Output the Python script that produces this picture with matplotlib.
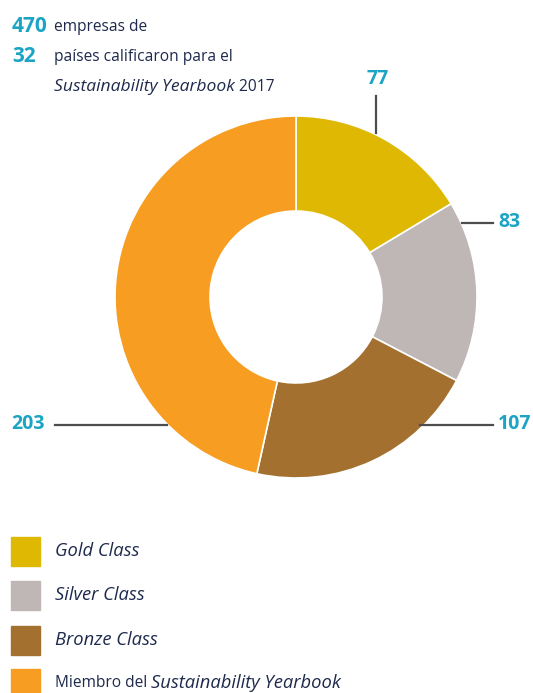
import matplotlib.pyplot as plt

# Data
labels = ['Gold Class', 'Silver Class', 'Bronze Class', 'Miembro del Sustainability Yearbook']
values = [77, 83, 107, 203]
# the original drawing is not exactly proportional; slice angles as drawn (degrees)
drawn_deg = [59, 58.5, 75, 167.5]
colors = ['#dfb804', '#beb7b5', '#a37030', '#f79d21']
total_companies = 470
countries = 32

teal = '#1ba4c4'
navy = '#1e2a4c'
line_c = '#4d4d4d'

plt.rcParams['font.family'] = ['Open Sans', 'DejaVu Sans']

W, H = 533, 693
fig = plt.figure(figsize=(W / 100, H / 100), dpi=100)
ax = fig.add_axes([0, 0, 1, 1])


def Y(py):
    # pixel row (from top) -> data y
    return H - py


cx, cy, r = 296, Y(297), 181
ax.pie(drawn_deg, colors=colors, startangle=90, counterclock=False,
       center=(cx, cy), radius=r,
       wedgeprops=dict(width=r * 0.525, edgecolor='white', linewidth=1.2))
ax.set_xlim(0, W)
ax.set_ylim(0, H)
ax.set_aspect('equal')
ax.axis('off')

fs = 11.2     # regular text
fsi = 12.6    # italic text
fsn = 15      # numbers

# header text
ax.text(12, Y(26), str(total_companies), color=teal, fontsize=fsn,
        fontweight='bold', va='center')
ax.text(54, Y(27), 'empresas de', color=navy, fontsize=fs, va='center')
ax.text(12, Y(56), str(countries), color=teal, fontsize=fsn,
        fontweight='bold', va='center')
ax.text(54, Y(57), 'países calificaron para el', color=navy, fontsize=fs, va='center')
t = ax.text(54, Y(87), 'Sustainability Yearbook', color=navy, fontsize=fsi,
            style='italic', va='center')
ax.annotate(' 2017', xy=(1, 0.5), xycoords=t, color=navy, fontsize=fs, va='center')

# leader lines and value labels
lw = 1.6
ax.plot([376, 376], [Y(96), Y(133)], color=line_c, lw=lw)
ax.text(378, Y(79), str(values[0]), color=teal, fontsize=fsn - 1, fontweight='bold',
        ha='center', va='center')
ax.plot([462, 493], [Y(223), Y(223)], color=line_c, lw=lw)
ax.text(498, Y(222), str(values[1]), color=teal, fontsize=fsn - 1, fontweight='bold',
        va='center')
ax.plot([420, 493], [Y(425), Y(425)], color=line_c, lw=lw)
ax.text(498, Y(424), str(values[2]), color=teal, fontsize=fsn - 1, fontweight='bold',
        va='center')
ax.plot([55, 167], [Y(425), Y(425)], color=line_c, lw=lw)
ax.text(11, Y(424), str(values[3]), color=teal, fontsize=fsn - 1, fontweight='bold',
        va='center')

# legend
rows = [551, 595, 640, 683]
for i, (lab, col) in enumerate(zip(labels, colors)):
    yc = Y(rows[i])
    ax.add_patch(plt.Rectangle((11, yc - 14.5), 29, 29, color=col))
    if i < 3:
        ax.text(55, yc, lab, color=navy, fontsize=fsi + 0.6, style='italic', va='center')
    else:
        tt = ax.text(55, yc, 'Miembro del ', color=navy, fontsize=fs, va='center')
        ax.annotate('Sustainability Yearbook', xy=(1, 0.5), xycoords=tt,
                    color=navy, fontsize=fsi + 0.6, style='italic', va='center')

fig.savefig('out.png', dpi=100, facecolor='white')
